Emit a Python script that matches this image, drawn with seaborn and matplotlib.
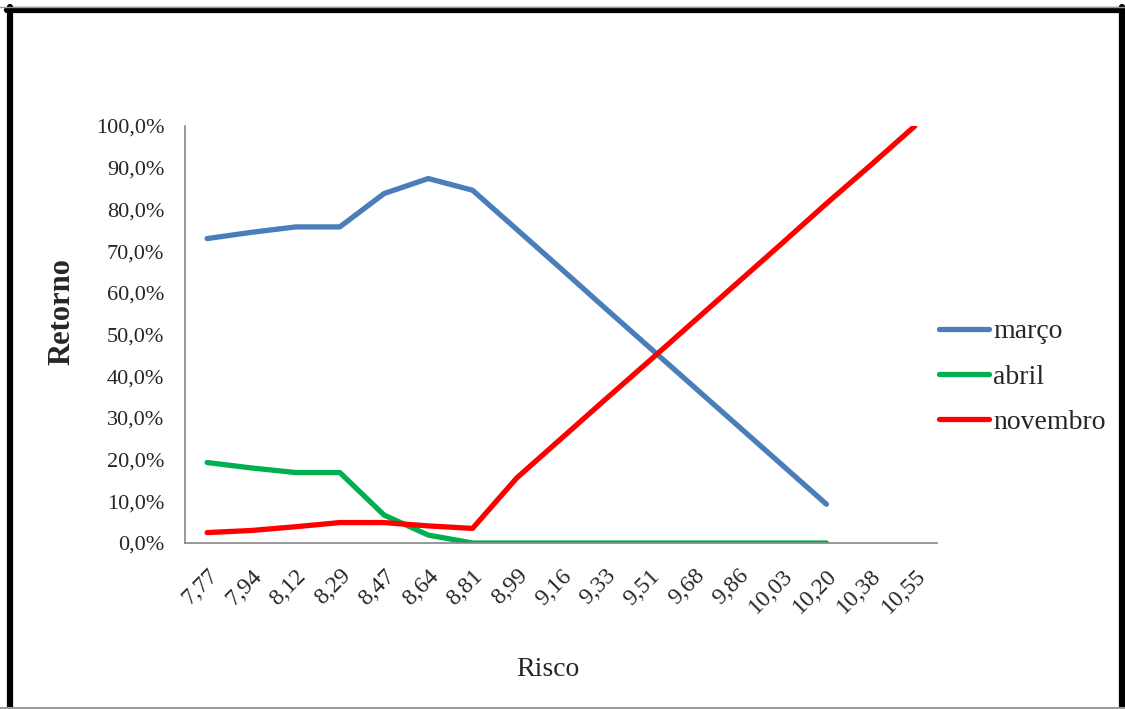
import matplotlib
matplotlib.use("Agg")
import matplotlib.pyplot as plt
from matplotlib.lines import Line2D
from matplotlib.ticker import FixedLocator, FuncFormatter
import numpy as np
import pandas as pd
import seaborn as sns

# Risk levels (x categories)
risco = ["7,77", "7,94", "8,12", "8,29", "8,47", "8,64", "8,81", "8,99", "9,16",
         "9,33", "9,51", "9,68", "9,86", "10,03", "10,20", "10,38", "10,55"]

# Portfolio weights by month (fractions)
marco = [0.730, 0.745, 0.758, 0.758, 0.838, 0.874, 0.846, 0.752, 0.658,
         0.563, 0.469, 0.375, 0.281, 0.187, 0.093]
abril = [0.193, 0.180, 0.169, 0.169, 0.067, 0.019, 0.0, 0.0, 0.0,
         0.0, 0.0, 0.0, 0.0, 0.0, 0.0]
novembro = [0.025, 0.030, 0.039, 0.049, 0.049, 0.041, 0.035, 0.156, 0.250,
            0.344, 0.437, 0.531, 0.625, 0.719, 0.814, 0.906, 1.000]

series_names = ["março", "abril", "novembro"]
series_values = [marco, abril, novembro]
colors = ["#4A7EBB", "#00B050", "#FF0000"]

rows = []
for name, vals in zip(series_names, series_values):
    for i, v in enumerate(vals):
        rows.append({"pos": i, "valor": v, "serie": name})
df = pd.DataFrame(rows)

sns.set_theme(style="white")
plt.rcParams["font.family"] = ["Liberation Serif", "DejaVu Serif"]

W, H = 1125, 709
fig = plt.figure(figsize=(W / 100, H / 100), dpi=100)
fig.patch.set_facecolor("white")
ax = fig.add_axes([185 / W, 1 - 543 / H, (937 - 185) / W, (543 - 126) / H])

sns.lineplot(data=df, x="pos", y="valor", hue="serie", hue_order=series_names,
             palette=colors, linewidth=3.8, ax=ax, legend=False,
             estimator=None, sort=False)
for ln in ax.get_lines():
    ln.set_solid_capstyle("round")
    ln.set_solid_joinstyle("round")

n = len(risco)
ax.set_xlim(-0.5, n - 0.5)
ax.set_ylim(0, 1.0)

# Category boundaries carry the tick marks, centres carry the labels
ax.xaxis.set_major_locator(FixedLocator(np.arange(-0.5, n, 1.0)))
ax.xaxis.set_major_formatter(FuncFormatter(lambda v, p: ""))
ax.set_xticks(np.arange(n), minor=True)
ax.set_xticklabels(risco, minor=True, rotation=45, ha="right",
                   rotation_mode="anchor", fontsize=17)
ax.tick_params(axis="x", which="minor", length=0, pad=16)
ax.tick_params(axis="x", which="major", length=7, width=1.2, color="#868686",
               direction="out")

ax.set_yticks(np.arange(0, 1.01, 0.1))
ax.yaxis.set_major_formatter(
    FuncFormatter(lambda v, p: f"{v * 100:.1f}%".replace(".", ",")))
ax.tick_params(axis="y", length=7, width=1.2, color="#868686", direction="out",
               labelsize=16, pad=8)

for side in ["top", "right"]:
    ax.spines[side].set_visible(False)
for side in ["left", "bottom"]:
    ax.spines[side].set_color("#868686")
    ax.spines[side].set_linewidth(1.2)
ax.grid(False)

ax.set_xlabel("")
ax.set_ylabel("")
fig.text(548 / W, 1 - 670 / H, "Risco", ha="center", va="center", fontsize=20)
fig.text(62 / W, 1 - 312 / H, "Retorno", ha="center", va="center", fontsize=22,
         fontweight="bold", rotation=90)

handles = [Line2D([], [], color=c, linewidth=3.8, solid_capstyle="round")
           for c in colors]
fig.legend(handles, series_names, loc="center left",
           bbox_to_anchor=(939 / W, 1 - 377 / H), frameon=False, fontsize=20,
           handlelength=1.8, handletextpad=0.15, labelspacing=0.72,
           borderaxespad=0, borderpad=0)

# Outer frame
fig.add_artist(Line2D([10 / W, 10 / W], [0, 1 - 7 / H], color="black",
                      linewidth=4.5, transform=fig.transFigure))
fig.add_artist(Line2D([1122 / W, 1122 / W], [0, 1 - 7 / H], color="black",
                      linewidth=4.5, transform=fig.transFigure))
fig.add_artist(Line2D([7 / W, 1125 / W], [1 - 10 / H, 1 - 10 / H],
                      color="black", linewidth=4.5, transform=fig.transFigure))
fig.add_artist(Line2D([0, 1], [1 - 6.5 / H, 1 - 6.5 / H], color="#9a9a9a",
                      linewidth=1.0, transform=fig.transFigure))
fig.add_artist(Line2D([0, 1], [1.5 / H, 1.5 / H], color="#9a9a9a",
                      linewidth=1.5, transform=fig.transFigure))

fig.savefig("out.png", dpi=100, facecolor="white")
